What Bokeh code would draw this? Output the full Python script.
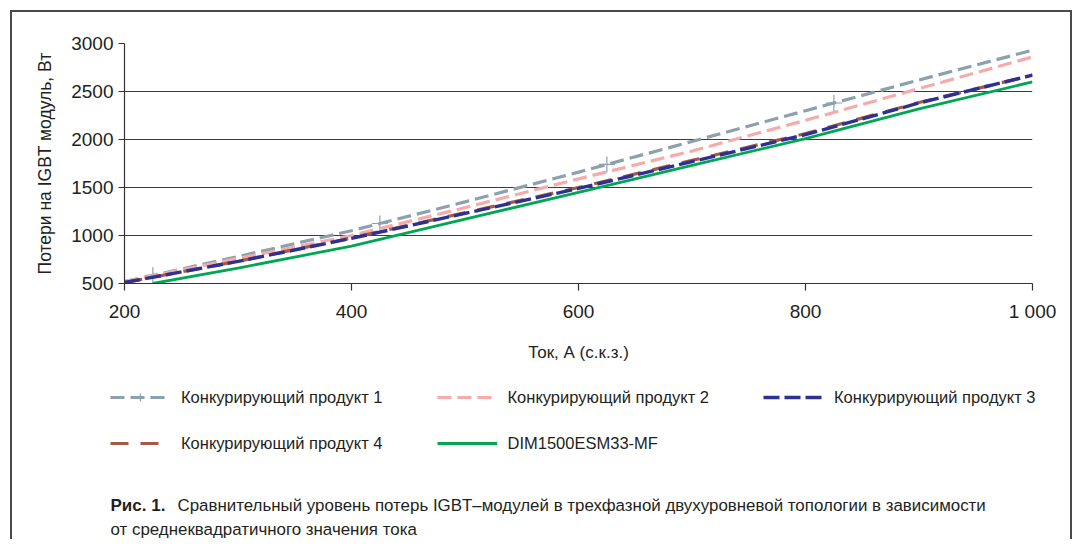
from bokeh.plotting import figure
from bokeh.layouts import column
from bokeh.models import Range1d, FixedTicker, Legend, LegendItem, Label
from bokeh.embed import file_html
from bokeh.resources import INLINE

# ---- data ----
current = [200, 300, 400, 500, 600, 700, 800, 900, 1000]
prod1 = [520, 780, 1050, 1350, 1660, 1980, 2300, 2620, 2930]
prod2 = [520, 760, 1000, 1290, 1590, 1880, 2200, 2530, 2860]
prod3 = [510, 730, 970, 1230, 1490, 1770, 2050, 2380, 2670]
prod4 = [510, 732, 975, 1238, 1500, 1782, 2062, 2385, 2670]
dim_x = [225, 300, 400, 500, 600, 700, 800, 900, 1000]
dim_y = [500, 660, 890, 1170, 1450, 1730, 2010, 2320, 2600]
mark1_x = [225, 425, 625, 825]
mark1_y = [585, 1125, 1740, 2380]

names = ["Конкурирующий продукт 1", "Конкурирующий продукт 2", "Конкурирующий продукт 3",
         "Конкурирующий продукт 4", "DIM1500ESM33-MF"]
x_ticks = [200, 400, 600, 800, 1000]
y_ticks = [500, 1000, 1500, 2000, 2500, 3000]
caption_bold = "Рис. 1."
caption_1 = "Сравнительный уровень потерь IGBT–модулей в трехфазной двухуровневой топологии в зависимости"
caption_2 = "от среднеквадратичного значения тока"

FONT = "Liberation Sans"
TXT = "#231f20"
C1, C2, C3, C4, C5 = "#8ba1ae", "#f6aaaa", "#2e3192", "#a65a45", "#00a651"

W = 1074
H1 = 365
H2 = 539 - H1

p = figure(width=W, height=H1, x_range=Range1d(200, 1000), y_range=Range1d(500, 3000),
           output_backend="svg", toolbar_location=None, frame_align=False,
           min_border_left=124, min_border_right=W - 1032, min_border_top=43, min_border_bottom=H1 - 283)
p.outline_line_color = None
p.background_fill_alpha = 0
p.border_fill_alpha = 0

p.xgrid.grid_line_color = None
p.ygrid.grid_line_color = "#3c3c3c"
p.ygrid.grid_line_width = 1.2
p.ygrid.ticker = FixedTicker(ticks=y_ticks)
p.xaxis.ticker = FixedTicker(ticks=x_ticks)
p.yaxis.ticker = FixedTicker(ticks=y_ticks)
p.xaxis.major_label_overrides = {1000: "1 000"}
for ax in (p.xaxis[0], p.yaxis[0]):
    ax.axis_line_color = "#333333"
    ax.axis_line_width = 1.2
    ax.major_tick_line_color = "#333333"
    ax.major_tick_line_width = 1.2
    ax.major_tick_in = 0
    ax.minor_tick_line_color = None
    ax.major_label_text_font = FONT
    ax.major_label_text_font_size = "19px"
    ax.major_label_text_color = TXT
    ax.axis_label_text_font = FONT
    ax.axis_label_text_font_style = "normal"
    ax.axis_label_text_color = TXT
p.xaxis.major_tick_out = 7
p.xaxis.major_label_standoff = 10
p.xaxis.axis_label = "Ток, А (с.к.з.)"
p.xaxis.axis_label_text_font_size = "17px"
p.xaxis.axis_label_standoff = 18
p.yaxis.major_tick_out = 6
p.yaxis.major_label_standoff = 5
p.yaxis.axis_label = "Потери на IGBT модуль, Вт"
p.yaxis.axis_label_text_font_size = "17.5px"
p.yaxis.axis_label_standoff = 13

styles = [
    dict(line_color=C1, line_width=3.2, line_dash="14 6"),
    dict(line_color=C2, line_width=3.2, line_dash="14 6"),
    dict(line_color=C3, line_width=3.4, line_dash="16 5"),
    dict(line_color=C4, line_width=3.2, line_dash="18 12"),
    dict(line_color=C5, line_width=2.8),
]
cross_style = dict(marker="cross", size=16, line_color=C1, line_width=1.2)

p.line(current, prod1, **styles[0])
p.scatter(mark1_x, mark1_y, **cross_style)
p.line(current, prod2, **styles[1])
p.line(current, prod4, **styles[3])
p.line(current, prod3, **styles[2])
p.line(dim_x, dim_y, **styles[4])

# ---- lower part: legend + caption (pixel coords, y downward from top of this panel) ----
p2 = figure(width=W, height=H2, x_range=Range1d(0, W), y_range=Range1d(H2, 0),
            output_backend="svg", toolbar_location=None, frame_align=False,
            x_axis_location=None, y_axis_location=None,
            min_border_left=0, min_border_right=0, min_border_top=0, min_border_bottom=0)
p2.grid.visible = False
p2.outline_line_color = None
p2.background_fill_alpha = 0
p2.border_fill_alpha = 0

# legend renderers: same series, lying outside this panel's visible range
series = [(current, prod1), (current, prod2), (current, prod3), (current, prod4), (dim_x, dim_y)]
lg = [p2.line(xs, ys, **s) for (xs, ys), s in zip(series, styles)]
lg_cross = p2.scatter(mark1_x, mark1_y, **cross_style)

common = dict(orientation="horizontal", spacing=54, glyph_width=60, glyph_height=20,
              label_height=20, label_standoff=11, padding=0, margin=0,
              border_line_alpha=0, background_fill_alpha=0,
              label_text_font=FONT, label_text_font_size="16.5px", label_text_color=TXT)
leg1 = Legend(items=[LegendItem(label=names[0], renderers=[lg[0], lg_cross]),
                     LegendItem(label=names[1], renderers=[lg[1]]),
                     LegendItem(label=names[2], renderers=[lg[2]])],
              location=(110, 539 - 407), **common)
leg2 = Legend(items=[LegendItem(label=names[3], renderers=[lg[3]]),
                     LegendItem(label=names[4], renderers=[lg[4]])],
              location=(110, 539 - 453), **common)
p2.add_layout(leg1)
p2.add_layout(leg2)

def yy(img_y):
    return img_y - H1

p2.add_layout(Label(x=110, y=yy(505), text=caption_bold, text_font=FONT, text_font_style="bold",
                    text_font_size="17px", text_color=TXT, text_baseline="middle"))
p2.add_layout(Label(x=177, y=yy(505), text=caption_1, text_font=FONT,
                    text_font_size="16.9px", text_color=TXT, text_baseline="middle"))
p2.add_layout(Label(x=110, y=yy(529), text=caption_2, text_font=FONT,
                    text_font_size="16.9px", text_color=TXT, text_baseline="middle"))

border_css = {
    "background-color": "white",
    "background-image": ("linear-gradient(#4a4a4a,#4a4a4a), linear-gradient(#4a4a4a,#4a4a4a), "
                         "linear-gradient(#4a4a4a,#4a4a4a)"),
    "background-size": "2px 100%, 1062px 2px, 2px 100%",
    "background-position": "10px 10px, 10px 10px, 1070px 10px",
    "background-repeat": "no-repeat",
}
layout = column(p, p2, spacing=0, styles=border_css)

open("out.html", "w").write(file_html(layout, INLINE))
